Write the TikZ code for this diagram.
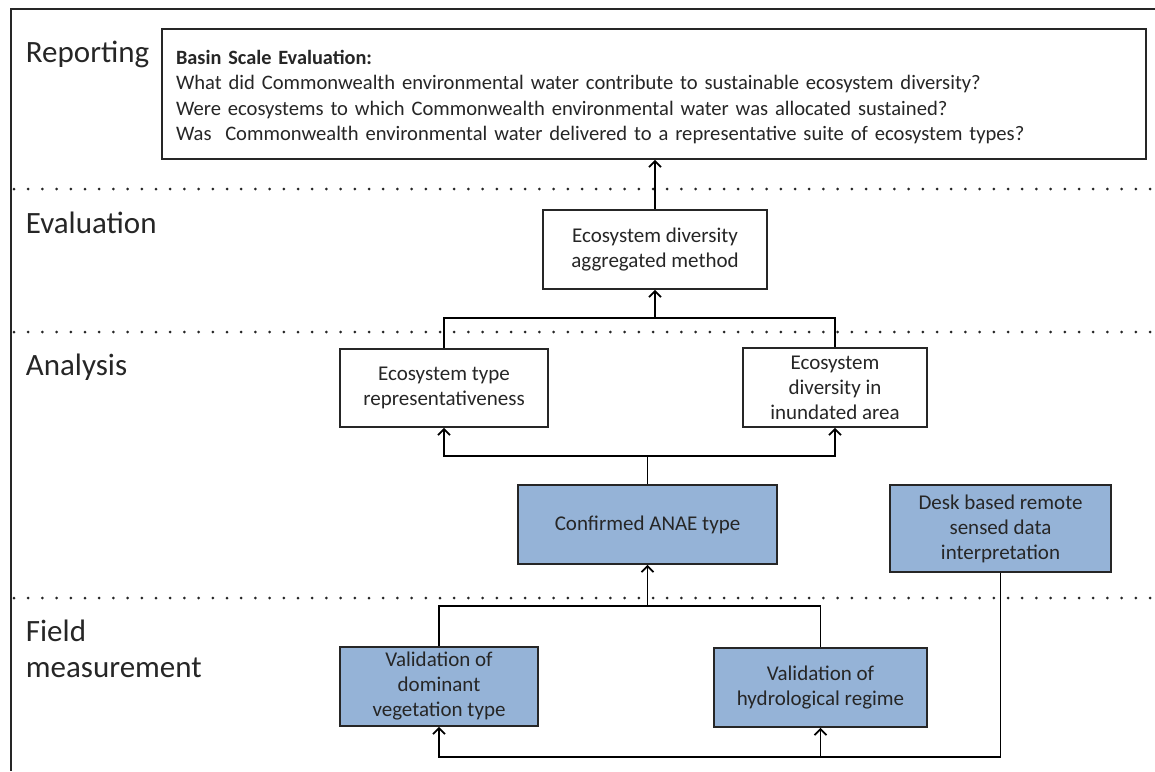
\documentclass[tikz,border=0pt]{standalone}
\usepackage{fontspec}
\setmainfont{Carlito}
\usepackage{tikz}
\usetikzlibrary{arrows.meta,positioning}

\definecolor{boxblue}{RGB}{149,179,215}
\definecolor{inkgray}{RGB}{38,38,38}

\begin{document}
\begin{tikzpicture}[>={Straight Barb[length=6pt,width=12pt]},x=1pt,y=-1pt,line width=1.8pt]
\tikzstyle{tier} = [anchor=base west,inner sep=0pt,align=left,text=inkgray,font=\fontsize{31}{36}\selectfont]
\tikzstyle{wbox} = [rectangle,draw=inkgray,fill=white,align=center,inner sep=2pt,line width=1.6pt,text=inkgray,font=\fontsize{21}{25}\selectfont]
\tikzstyle{bbox} = [wbox,fill=boxblue]
\tikzstyle{sep} = [line width=3pt,line cap=round,dash pattern=on 0pt off 14.2pt,inkgray]

\useasboundingbox (0,0) rectangle (1155,771);

% frame and tier separators
\draw[inkgray] (1155,9) -- (11,9) -- (11,771);
\foreach \y in {189,332,598}
  \draw[sep] (14,\y) -- (1155,\y);

% tier labels
\node[tier] (lrep) at (25,62) {Reporting};
\node[tier] (leval) at (25,233) {Evaluation};
\node[tier] (lana) at (25,375) {Analysis};
\node[tier,anchor=north west] (lfield) at (25,619) {Field\\measurement};

% boxes
\node[wbox,minimum width=984,minimum height=130,text width=956,align=left,font=\fontsize{20.6}{25.5}\selectfont] (report) at (654,94)
  {\rule{0pt}{20pt}{\fontsize{20.3}{25.5}\selectfont\textbf{Basin Scale Evaluation:}}\\
   What did Commonwealth environmental water contribute to sustainable ecosystem diversity?\\
   Were ecosystems to which Commonwealth environmental water was allocated sustained?\\
   Was\ \ Commonwealth environmental water delivered to a representative suite of ecosystem types?};
\node[wbox,minimum width=224,minimum height=79] (aggr) at (655,249.5) {Ecosystem diversity\\aggregated method};
\node[wbox,minimum width=208,minimum height=78] (repr) at (444,388) {Ecosystem type\\representativeness};
\node[wbox,minimum width=184,minimum height=79] (divin) at (835,387.5) {Ecosystem\\diversity in\\inundated area};
\node[bbox,minimum width=259,minimum height=79] (anae) at (647.5,524.5) {Confirmed ANAE type};
\node[bbox,minimum width=221,minimum height=87] (desk) at (1000.5,528.5) {Desk based remote\\sensed data\\interpretation};
\node[bbox,minimum width=198,minimum height=79] (domin) at (439,686.5) {Validation of\\dominant\\vegetation type};
\node[bbox,minimum width=213,minimum height=79] (hydro) at (820.5,687.5) {Validation of\\hydrological regime};

% junctions
\coordinate (jeval) at (aggr.south |- 0,318);
\coordinate (jana) at (anae.north |- 0,456);
\coordinate (jfield) at (anae.south |- 0,606);
\coordinate (jdesk) at (desk.south |- 0,757);

% links
\draw[->] (aggr.north) -- (aggr.north |- report.south);
\draw (repr.north) |- (jeval) -| (divin.north);
\draw[->] (jeval) -- (aggr.south);
\draw (anae.north) -- (jana);
\draw[->] (jana) -| (repr.south);
\draw[->] (jana) -| (divin.south);
\draw (domin.north) |- (jfield) -| (hydro.north);
\draw[->] (jfield) -- (anae.south);
\draw (desk.south) -- (jdesk);
\draw[->] (jdesk) -| (hydro.south);
\draw[->] (jdesk) -| (domin.south);
\end{tikzpicture}
\end{document}
